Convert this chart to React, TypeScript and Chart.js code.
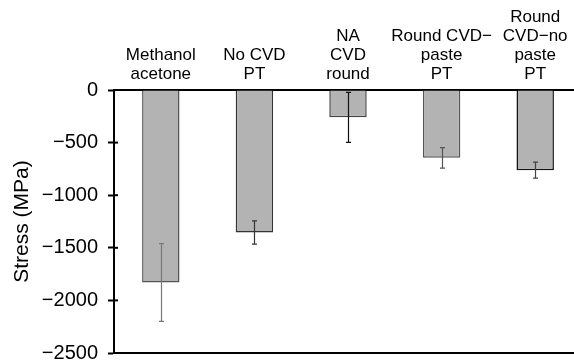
import React, { useEffect, useRef } from "react";
import { Chart, registerables } from "chart.js";

Chart.register(...registerables);

const categories: string[][] = [
  ["Methanol", "acetone"],
  ["No CVD", "PT"],
  ["NA", "CVD", "round"],
  ["Round CVD\u2212", "paste", "PT"],
  ["Round", "CVD\u2212no", "paste", "PT"],
];
const stressValues: number[] = [-1830, -1355, -260, -645, -762];
const stressErrors: number[] = [370, 110, 238, 98, 76];
const yTicks: number[] = [0, -500, -1000, -1500, -2000, -2500];

const barBorders = ["#555555", "#333333", "#444444", "#555555", "#111111"];
const errColors = ["#777777", "#333333", "#111111", "#555555", "#444444"];

const FONT = "'Liberation Sans', Arial, Helvetica, sans-serif";

const extrasPlugin = {
  id: "extras",
  afterDatasetsDraw(chart: any) {
    const ctx = chart.ctx;
    const meta = chart.getDatasetMeta(0);
    const y = chart.scales.y;
    ctx.save();
    meta.data.forEach((bar: any, i: number) => {
      const v = stressValues[i];
      const e = stressErrors[i];
      const yTop = y.getPixelForValue(v + e);
      const yBot = y.getPixelForValue(v - e);
      const x = Math.round(bar.x) + 0.5;
      ctx.strokeStyle = errColors[i];
      ctx.lineWidth = 1.2;
      ctx.beginPath();
      ctx.moveTo(x, yTop);
      ctx.lineTo(x, yBot);
      ctx.moveTo(x - 2.5, yTop);
      ctx.lineTo(x + 2.5, yTop);
      ctx.moveTo(x - 2.5, yBot);
      ctx.lineTo(x + 2.5, yBot);
      ctx.stroke();
    });
    // inner part of y tick marks
    const left = chart.chartArea.left;
    ctx.strokeStyle = "#000";
    ctx.lineWidth = 2;
    yTicks.forEach((t) => {
      const py = y.getPixelForValue(t);
      ctx.beginPath();
      ctx.moveTo(left, py);
      ctx.lineTo(left + 4, py);
      ctx.stroke();
    });
    ctx.restore();
  },
};

export default function App() {
  const ref = useRef<HTMLCanvasElement | null>(null);
  useEffect(() => {
    if (!ref.current) return;
    const chart = new Chart(ref.current, {
      type: "bar",
      data: {
        labels: categories,
        datasets: [
          {
            data: stressValues,
            backgroundColor: "#b3b3b3",
            borderColor: barBorders,
            borderWidth: 1.5,
            categoryPercentage: 1,
            barPercentage: 0.4,
            xAxisID: "x",
            yAxisID: "y",
          } as any,
        ],
      },
      options: {
        animation: false,
        responsive: false,
        maintainAspectRatio: false,
        layout: { padding: 0 },
        plugins: {
          legend: { display: false },
          tooltip: { enabled: false },
          title: { display: false },
        },
        scales: {
          x: {
            type: "category",
            position: "top",
            grid: { display: false, drawTicks: false },
            border: { display: true, color: "#000", width: 2 },
            ticks: {
              color: "#000",
              padding: 6,
              maxRotation: 0,
              minRotation: 0,
              autoSkip: false,
              font: { family: FONT, size: 17, lineHeight: 19 / 17 },
            },
            afterFit: (s: any) => {
              s.height = 90;
              s.paddingLeft = 0;
              s.paddingRight = 0;
            },
          },
          x2: {
            type: "category",
            position: "bottom",
            labels: categories.map((c) => c.join(" ")),
            grid: { display: false, drawTicks: false },
            border: { display: true, color: "#000", width: 2 },
            ticks: { display: false },
            afterFit: (s: any) => {
              s.height = 10;
              s.paddingLeft = 0;
              s.paddingRight = 0;
            },
          },
          y: {
            min: -2500,
            max: 0,
            afterBuildTicks: (s: any) => {
              s.ticks = yTicks.map((v) => ({ value: v }));
            },
            grid: {
              display: true,
              drawOnChartArea: false,
              drawTicks: true,
              tickLength: 6,
              tickColor: "#000",
              tickWidth: 2,
              color: "#000",
            },
            border: { display: true, color: "#000", width: 2 },
            ticks: {
              color: "#000",
              padding: 10,
              font: { family: FONT, size: 20 },
              callback: (v: any) => (Number(v) === 0 ? "0" : "\u2212" + Math.abs(Number(v))),
            },
            title: {
              display: true,
              text: "Stress (MPa)",
              color: "#000",
              padding: { top: 9.5, bottom: 0 },
              font: { family: FONT, size: 21, lineHeight: 1.2 },
            },
            afterFit: (s: any) => {
              s.width = 114;
              s.paddingTop = 0;
              s.paddingBottom = 0;
            },
          },
        },
      },
      plugins: [extrasPlugin],
    });
    return () => chart.destroy();
  }, []);

  return (
    <div
      style={{
        position: "fixed",
        left: 0,
        top: 0,
        width: 574,
        height: 363,
        overflow: "hidden",
        background: "#fff",
      }}
    >
      <canvas ref={ref} width={582} height={363} style={{ display: "block", width: 582, height: 363 }} />
    </div>
  );
}
